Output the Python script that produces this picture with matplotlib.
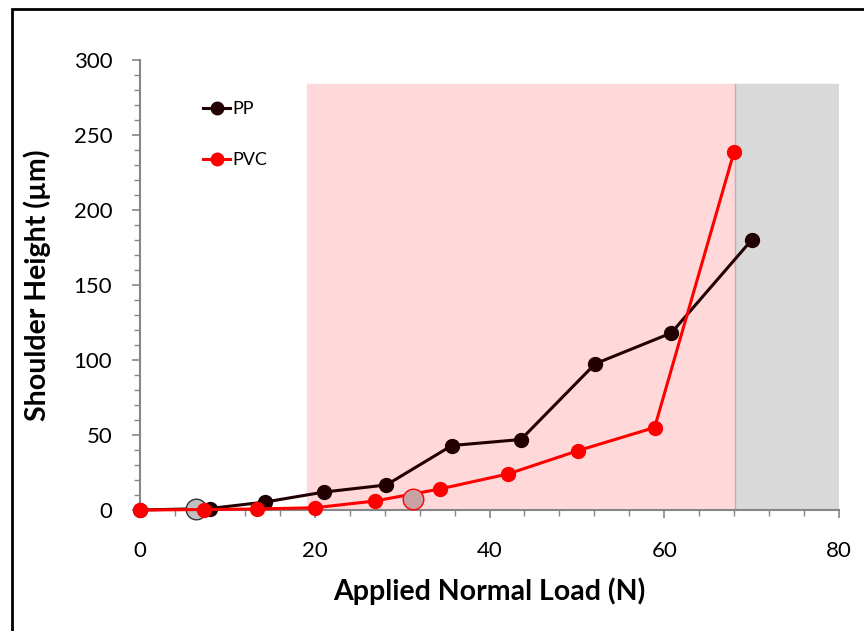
import matplotlib.pyplot as plt
from matplotlib.patches import Rectangle

plt.rcParams['font.family'] = ['Lato', 'DejaVu Sans']

# data
pp_load = [0, 8.0, 14.3, 21.1, 28.2, 35.7, 43.6, 52.1, 60.8, 70.0]
pp_height = [0, 1, 5.3, 12, 16.7, 43, 47, 97.5, 118, 180]
pvc_load = [0, 7.3, 13.4, 20.0, 26.9, 34.3, 42.1, 50.1, 58.9, 68.0]
pvc_height = [0, 0.3, 0.7, 1.5, 6, 14, 24, 39.5, 55, 239]
onset_load = [6.4, 31.2]
onset_height = [0.8, 7.5]

fig = plt.figure(figsize=(8.64, 6.31), dpi=100)
ax = fig.add_axes([140 / 864, 1 - 510 / 631, 699 / 864, 450 / 631])

# shaded regions
ax.axvspan(19.1, 68.1, ymax=284 / 300, color='#ffd9d9', zorder=0)
ax.axvspan(68.1, 80, ymax=284 / 300, color='#d9d9d9', zorder=0)
ax.plot([68.1, 68.1], [0, 284], color='#d0aaaa', lw=1, zorder=0.5)

ax.plot(pp_load, pp_height, '-o', color='#200000', lw=2.2, ms=10, label='PP', zorder=3, clip_on=False)
ax.plot(pvc_load, pvc_height, '-o', color='#ff0000', lw=2.2, ms=10, label='PVC', zorder=4, clip_on=False)
ax.scatter(onset_load[:1], onset_height[:1], s=220, facecolor='#c0c0c0', edgecolor='#333333',
           lw=1, zorder=3.5, clip_on=False)
ax.scatter(onset_load[1:], onset_height[1:], s=220, facecolor='#c9a1a2', edgecolor='#ff0000',
           lw=1, zorder=5, clip_on=False)

ax.set_xlim(0, 80)
ax.set_ylim(0, 300)
ax.set_xticks([0, 20, 40, 60, 80])
ax.set_xticks(range(0, 81, 4), minor=True)
ax.set_yticks(range(0, 301, 50))
ax.set_yticks(range(0, 301, 10), minor=True)
ax.tick_params(labelsize=16, colors='#868686', labelcolor='black', length=6, width=1.2)
ax.tick_params(axis='x', pad=16)
ax.tick_params(axis='y', pad=14)
ax.tick_params(which='minor', colors='#868686', length=4, width=1)
for s in ['top', 'right']:
    ax.spines[s].set_visible(False)
for s in ['left', 'bottom']:
    ax.spines[s].set_color('#868686')
    ax.spines[s].set_linewidth(1.5)

ax.set_xlabel('Applied Normal Load (N)', fontsize=20.5, fontweight='bold', labelpad=12)
ax.set_ylabel('Shoulder Height (µm)', fontsize=20.5, fontweight='bold', labelpad=16)

leg = ax.legend(loc='upper left', bbox_to_anchor=(0.067, 0.945), frameon=False, fontsize=13,
                handlelength=1.5, handletextpad=0.1, labelspacing=1.95, markerscale=0.9)

# outer frame
fig.patches.append(Rectangle((12 / 864, -0.05), 1.1, 1 - 9 / 631 + 0.05, transform=fig.transFigure,
                             fill=False, edgecolor='black', lw=2))

fig.savefig('out.png', dpi=100)
